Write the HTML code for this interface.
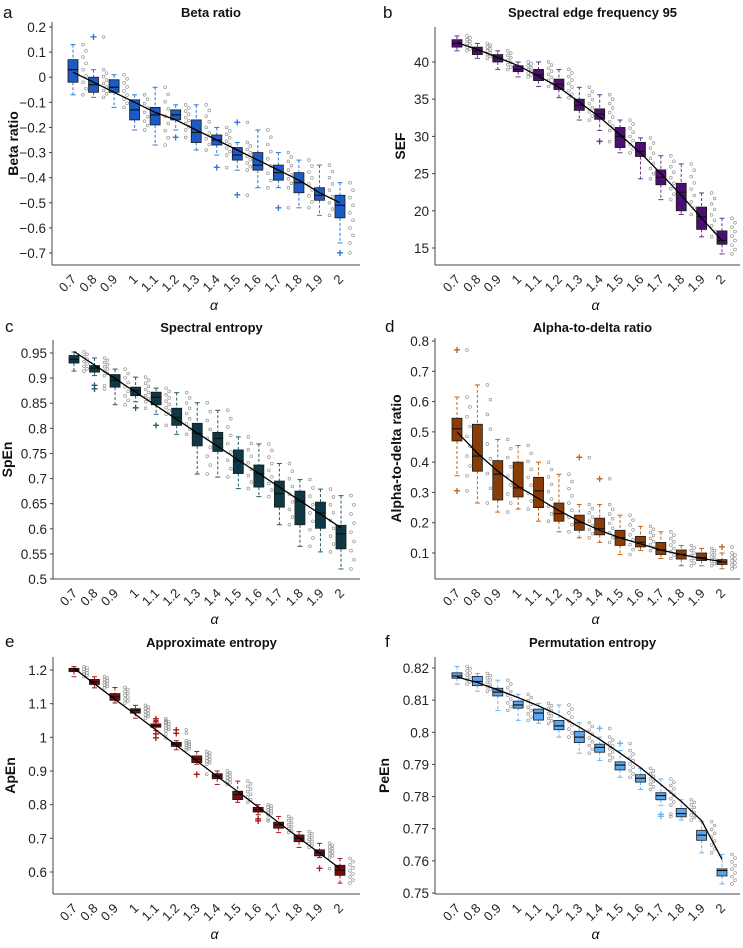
<!DOCTYPE html>
<html><head><meta charset="utf-8"><style>
body{margin:0;background:#fff;width:743px;height:943px;overflow:hidden;font-family:"Liberation Sans",sans-serif}
svg text{font-family:"Liberation Sans",sans-serif}
</style></head><body>
<svg id="fig" width="743" height="943" viewBox="0 0 743 943" xmlns="http://www.w3.org/2000/svg"></svg>
<script>
const cats=[0.7,0.8,0.9,1,1.1,1.2,1.3,1.4,1.5,1.6,1.7,1.8,1.9,2];
const catLabels=["0.7","0.8","0.9","1","1.1","1.2","1.3","1.4","1.5","1.6","1.7","1.8","1.9","2"];
// a
const aMed=[0.03,-0.03,-0.04,-0.13,-0.15,-0.15,-0.22,-0.25,-0.31,-0.35,-0.38,-0.42,-0.47,-0.51];
const aQ1=[-0.02,-0.06,-0.06,-0.17,-0.19,-0.17,-0.26,-0.27,-0.33,-0.37,-0.41,-0.46,-0.49,-0.56];
const aQ3=[0.07,0.00,-0.01,-0.09,-0.12,-0.13,-0.17,-0.23,-0.28,-0.30,-0.35,-0.38,-0.44,-0.47];
const aLo=[-0.07,-0.08,-0.12,-0.21,-0.27,-0.21,-0.29,-0.31,-0.37,-0.44,-0.44,-0.52,-0.55,-0.66];
const aHi=[0.13,0.03,0.01,-0.07,-0.04,-0.11,-0.11,-0.20,-0.26,-0.21,-0.30,-0.33,-0.35,-0.42];
const aFit=[0.02,-0.02,-0.06,-0.10,-0.14,-0.17,-0.21,-0.25,-0.29,-0.33,-0.37,-0.41,-0.46,-0.50];
const aOut=[[1,0.16],[5,-0.24],[7,-0.36],[8,-0.18],[8,-0.47],[10,-0.52],[13,-0.70]];
const aTicks=[0.2,0.1,0,-0.1,-0.2,-0.3,-0.4,-0.5,-0.6,-0.7];
// b
const bMed=[42.5,41.5,40.5,39,38.3,37,34.2,33,30,28,24.5,22.5,19.2,16];
const bQ1=[42,41,40,38.7,37.5,36.3,33.5,32.3,28.5,27.3,23.5,20,17.5,15.5];
const bQ3=[43,42,41,39.5,39,37.7,35,33.7,31.2,29.2,25.5,23.7,20.5,17.3];
const bLo=[41.5,40.5,39,38,36.7,35.2,32.2,30.8,27.8,24.3,21.5,19.5,16.5,14.2];
const bHi=[43.5,42.5,41.5,40,40,39,36.6,35.6,32.2,29.8,27.4,26.3,22.4,19];
const bFit=[42.6,41.7,40.6,39.5,38.1,36.6,34.6,32.6,30.2,27.8,25.0,22.1,19.0,16.0];
const bOut=[[7,29.3]];
const bTicks=[15,20,25,30,35,40];
// c
const cMed=[0.937,0.92,0.895,0.875,0.862,0.822,0.79,0.78,0.735,0.71,0.67,0.655,0.632,0.59];
const cQ1=[0.93,0.912,0.882,0.865,0.847,0.806,0.765,0.754,0.71,0.683,0.643,0.608,0.601,0.56];
const cQ3=[0.945,0.925,0.907,0.882,0.872,0.84,0.81,0.792,0.757,0.727,0.695,0.675,0.653,0.607];
const cLo=[0.914,0.905,0.847,0.853,0.828,0.788,0.709,0.703,0.68,0.664,0.608,0.565,0.554,0.52];
const cHi=[0.952,0.94,0.918,0.902,0.88,0.871,0.851,0.836,0.783,0.769,0.73,0.698,0.679,0.666];
const cFit=[0.953,0.926,0.899,0.872,0.845,0.818,0.791,0.764,0.737,0.710,0.683,0.656,0.629,0.602];
const cOut=[[1,0.885],[1,0.878],[3,0.84],[4,0.806]];
const cTicks=[0.5,0.55,0.6,0.65,0.7,0.75,0.8,0.85,0.9,0.95];
// d
const dMed=[0.51,0.42,0.36,0.315,0.305,0.23,0.2,0.18,0.15,0.135,0.11,0.095,0.085,0.07];
const dQ1=[0.47,0.37,0.275,0.285,0.25,0.205,0.175,0.16,0.125,0.12,0.095,0.08,0.075,0.062];
const dQ3=[0.545,0.525,0.405,0.4,0.35,0.265,0.225,0.215,0.175,0.155,0.135,0.11,0.1,0.078];
const dLo=[0.355,0.265,0.235,0.245,0.205,0.17,0.15,0.135,0.095,0.108,0.082,0.058,0.058,0.048];
const dHi=[0.615,0.655,0.475,0.455,0.4,0.36,0.26,0.26,0.225,0.188,0.17,0.125,0.115,0.1];
const dFit=[0.5,0.43,0.37,0.32,0.28,0.24,0.205,0.175,0.15,0.13,0.11,0.095,0.082,0.072];
const dOut=[[0,0.77],[0,0.305],[6,0.415],[7,0.345],[13,0.12]];
const dTicks=[0.1,0.2,0.3,0.4,0.5,0.6,0.7,0.8];
// e
const eMed=[1.2,1.165,1.12,1.08,1.035,0.98,0.935,0.885,0.83,0.785,0.74,0.7,0.658,0.605];
const eQ1=[1.195,1.157,1.11,1.072,1.03,0.973,0.925,0.877,0.815,0.778,0.73,0.69,0.648,0.59];
const eQ3=[1.205,1.172,1.13,1.085,1.04,0.985,0.945,0.892,0.84,0.792,0.748,0.71,0.666,0.62];
const eLo=[1.18,1.147,1.102,1.057,1.02,0.963,0.92,0.86,0.807,0.77,0.717,0.673,0.643,0.567];
const eHi=[1.21,1.18,1.148,1.095,1.05,0.99,0.958,0.9,0.87,0.8,0.765,0.72,0.685,0.64];
const eFit=[1.205,1.159,1.113,1.068,1.022,0.976,0.930,0.884,0.839,0.793,0.747,0.701,0.656,0.610];
const eOut=[[4,1.055],[4,1.045],[4,1.01],[4,0.998],[5,1.022],[5,1.012],[6,0.89],[9,0.757],[9,0.752],[12,0.61]];
const eTicks=[0.6,0.7,0.8,0.9,1,1.1,1.2];
// f
const fMed=[0.8175,0.8158,0.8125,0.8085,0.806,0.802,0.7985,0.7953,0.7898,0.7857,0.7803,0.7747,0.768,0.757];
const fQ1=[0.8168,0.8145,0.8113,0.8075,0.8038,0.8008,0.7968,0.7938,0.7883,0.7845,0.779,0.7737,0.7664,0.7553];
const fQ3=[0.8185,0.8174,0.8137,0.8097,0.8072,0.8037,0.8003,0.7963,0.7908,0.7868,0.7812,0.7763,0.7695,0.7575];
const fLo=[0.815,0.8128,0.8068,0.8037,0.8028,0.7985,0.7935,0.7912,0.786,0.7822,0.7773,0.7727,0.7625,0.7528];
const fHi=[0.8205,0.8183,0.8162,0.8118,0.809,0.8085,0.803,0.7985,0.7943,0.7888,0.7855,0.779,0.7722,0.762];
const fFit=[0.8172,0.8155,0.8132,0.8108,0.8082,0.8053,0.8016,0.7978,0.7935,0.789,0.7838,0.7785,0.7725,0.7605];
const fOut=[[7,0.8012],[8,0.7965],[10,0.7745],[10,0.7738]];
const fTicks=[0.75,0.76,0.77,0.78,0.79,0.8,0.81,0.82];

const NS="http://www.w3.org/2000/svg";
const svg=document.getElementById('fig');
function mk(tag,attrs,parent,txt){const e=document.createElementNS(NS,tag);for(const k in attrs)e.setAttribute(k,attrs[k]);if(txt!==undefined)e.textContent=txt;parent.appendChild(e);return e;}
function fmt(v){let s=String(Math.round(v*1000)/1000);return s.replace('-','\u2212');}

const panels=[
 {id:'a',title:'Beta ratio',ylab:'Beta ratio',ax:52,bottom:265,top:22,right:360,v0:0.2,p0:27,v1:-0.7,p1:253,c0:73,c1:340,ty:17,
  med:aMed,q1:aQ1,q3:aQ3,lo:aLo,hi:aHi,fit:aFit,out:aOut,ticks:aTicks,fill:'#1d5bc4',wh:'#2f7ad8',ylx:13},
 {id:'b',title:'Spectral edge frequency 95',ylab:'SEF',ax:435,bottom:265,top:27,right:740,v0:40,p0:62,v1:15,p1:248,c0:457,c1:722,ty:17,
  med:bMed,q1:bQ1,q3:bQ3,lo:bLo,hi:bHi,fit:bFit,out:bOut,ticks:bTicks,fill:'#4b0f72',wh:'#6a3391',ylx:400},
 {id:'c',title:'Spectral entropy',ylab:'SpEn',ax:53,bottom:579,top:340,right:360,v0:0.95,p0:353,v1:0.5,p1:579,c0:74,c1:341,ty:332,
  med:cMed,q1:cQ1,q3:cQ3,lo:cLo,hi:cHi,fit:cFit,out:cOut,ticks:cTicks,fill:'#0f3845',wh:'#2a5b6a',ylx:7},
 {id:'d',title:'Alpha-to-delta ratio',ylab:'Alpha-to-delta ratio',ax:435,bottom:579,top:338,right:740,v0:0.8,p0:341,v1:0.1,p1:553,c0:457,c1:722,ty:332,
  med:dMed,q1:dQ1,q3:dQ3,lo:dLo,hi:dHi,fit:dFit,out:dOut,ticks:dTicks,fill:'#8a3c07',wh:'#c0651e',ylx:396},
 {id:'e',title:'Approximate entropy',ylab:'ApEn',ax:53,bottom:894,top:657,right:360,v0:1.2,p0:670,v1:0.6,p1:872,c0:74,c1:340,ty:647,
  med:eMed,q1:eQ1,q3:eQ3,lo:eLo,hi:eHi,fit:eFit,out:eOut,ticks:eTicks,fill:'#780b0b',wh:'#a51a1a',ylx:10},
 {id:'f',title:'Permutation entropy',ylab:'PeEn',ax:435,bottom:894,top:657,right:740,v0:0.82,p0:668,v1:0.75,p1:893,c0:457,c1:722,ty:647,
  med:fMed,q1:fQ1,q3:fQ3,lo:fLo,hi:fHi,fit:fFit,out:fOut,ticks:fTicks,fill:'#5aa6ec',wh:'#6fb3f0',ylx:384}
];
const letterPos={a:[3,18],b:[383,18],c:[5,332],d:[385,332],e:[5,647],f:[385,647]};

panels.forEach(P=>{
  const g=mk('g',{},svg);
  
  
  const y=v=>P.p0+(v-P.v0)*(P.p1-P.p0)/(P.v1-P.v0);
  const x=i=>P.c0+(cats[i]-cats[0])*(P.c1-P.c0)/(cats[cats.length-1]-cats[0]);
  const L=mk('text',{x:letterPos[P.id][0],y:letterPos[P.id][1],'font-size':17,fill:'#111'},g,P.id);
  
  const T=mk('text',{x:(P.ax+P.right)/2+5,y:P.ty,'font-size':13,'font-weight':'bold','text-anchor':'middle',fill:'#111'},g,P.title);
  
  const yc=(P.top+P.bottom)/2;
  const YL=mk('text',{x:P.ylx+5,y:yc,'font-size':14,'font-weight':'bold','text-anchor':'middle',transform:`rotate(-90 ${P.ylx+5} ${yc})`,fill:'#111'},g,P.ylab);
  
  const XL=mk('text',{x:(P.ax+P.right)/2+8,y:P.bottom+45,'font-size':14,'font-style':'italic','font-family':'Liberation Serif','text-anchor':'middle',fill:'#111'},g,'α');
  
  const ya=mk('line',{x1:P.ax,y1:P.top,x2:P.ax,y2:P.bottom,stroke:'#444','stroke-width':1},g);
  
  const xa=mk('line',{x1:P.ax,y1:P.bottom,x2:P.right,y2:P.bottom,stroke:'#444','stroke-width':1},g);
  
  P.ticks.forEach(t=>{
    mk('line',{x1:P.ax-3,y1:y(t),x2:P.ax,y2:y(t),stroke:'#444'},g);
    const tl=mk('text',{x:P.ax-6,y:y(t)+5,'font-size':13.5,'text-anchor':'end',fill:'#222'},g,fmt(t));
    
  });
  cats.forEach((c,i)=>{
    const xi=x(i);
    const tl=mk('text',{x:xi+4,y:P.bottom+15,'font-size':13,'text-anchor':'end',fill:'#222',transform:`rotate(-45 ${xi+4} ${P.bottom+15})`},g,catLabels[i]);
    
    for(let k=0;k<=8;k++){
      const v=P.lo[i]+(P.hi[i]-P.lo[i])*k/8;
      const cc=mk('circle',{cx:xi+10+(k%2)*3,cy:y(v),r:1.4,fill:'none',stroke:'#888','stroke-width':0.6},g);
      
    }
    const w1=mk('line',{x1:xi,y1:y(P.hi[i]),x2:xi,y2:y(P.q3[i]),stroke:P.wh,'stroke-dasharray':'3,2'},g);
    
    const w2=mk('line',{x1:xi,y1:y(P.q1[i]),x2:xi,y2:y(P.lo[i]),stroke:P.wh,'stroke-dasharray':'3,2'},g);
    
    mk('line',{x1:xi-2.5,y1:y(P.hi[i]),x2:xi+2.5,y2:y(P.hi[i]),stroke:P.wh},g);
    mk('line',{x1:xi-2.5,y1:y(P.lo[i]),x2:xi+2.5,y2:y(P.lo[i]),stroke:P.wh},g);
    const b=mk('rect',{x:xi-5,y:y(P.q3[i]),width:10,height:Math.max(1,y(P.q1[i])-y(P.q3[i])),fill:P.fill,stroke:'#1a1a1a','stroke-width':0.8},g);
    
    const m=mk('line',{x1:xi-5,y1:y(P.med[i]),x2:xi+5,y2:y(P.med[i]),stroke:'#111','stroke-width':1.2},g);
    
  });
  P.out.forEach(o=>{
    const xi=x(o[0]),yo=y(o[1]);
    const p=mk('text',{x:xi,y:yo+4,'font-size':12,'font-weight':'bold','text-anchor':'middle',fill:P.wh},g,'+');
    
    const cc=mk('circle',{cx:xi+10,cy:yo,r:1.4,fill:'none',stroke:'#888','stroke-width':0.6},g);
    
  });
  const pts=P.fit.map((v,i)=>x(i).toFixed(1)+','+y(v).toFixed(1)).join(' ');
  const fl=mk('polyline',{points:pts,fill:'none',stroke:'#000','stroke-width':1.3},g);
  
});
</script>
</body></html>
